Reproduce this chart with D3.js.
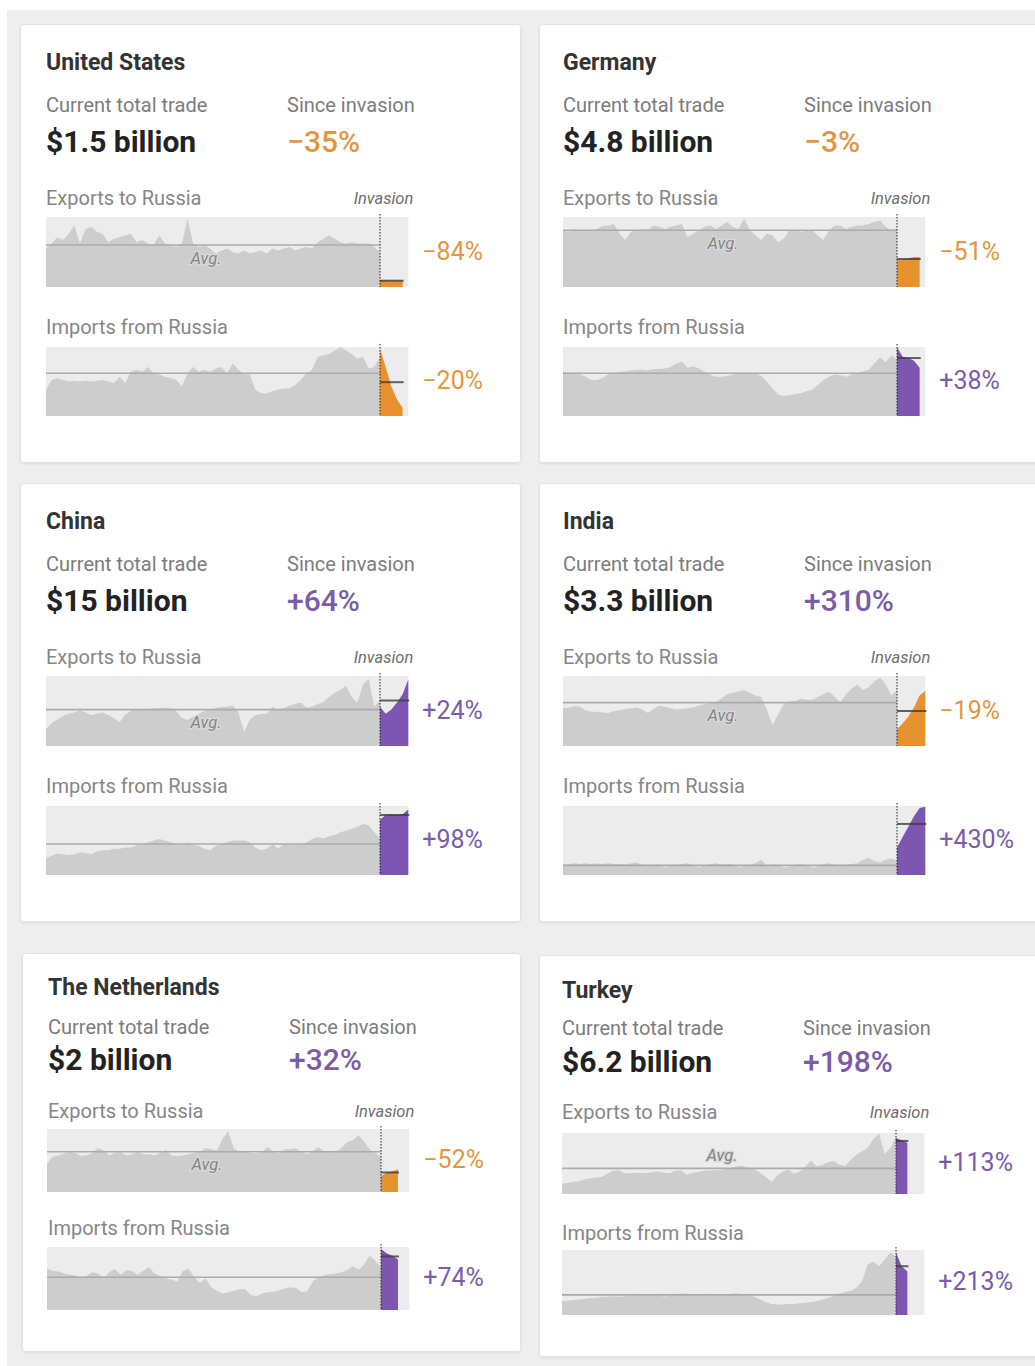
<!DOCTYPE html>
<html><head><meta charset="utf-8">
<script src="https://cdn.jsdelivr.net/npm/d3@7"></script>
<style>
body{margin:0;background:#fff;}
svg{display:block;font-family:Roboto, "Noto Sans", sans-serif;}
</style>
</head><body>
<svg id="chart" width="1035" height="1366"></svg>
<script>
// ---------- DATA ----------
const countries = ["United States", "Germany", "China", "India", "The Netherlands", "Turkey"];
const totalTrade = ["$1.5 billion", "$4.8 billion", "$15 billion", "$3.3 billion", "$2 billion", "$6.2 billion"];
const sinceInvasion = ["−35%", "−3%", "+64%", "+310%", "+32%", "+198%"];
const exportChange = ["−84%", "−51%", "+24%", "−19%", "−52%", "+113%"];
const importChange = ["−20%", "+38%", "+98%", "+430%", "+74%", "+213%"];

// series values, as share of each sparkline's height (0-100)
const usExports = [55,62,71,67,76,88,62,83,86,79,76,64,69,71,74,76,64,67,62,60,74,62,60,57,62,98,62,57,60,55,48,52,55,50,48,52,48,50,52,48,55,52,55,57,52,55,57,55,64,69,74,69,64,62,64,62,62,62,57,50];
const usExportsPost = [10,10,9,10,10];
const usImports = [38,52,55,52,50,51,50,51,50,51,52,50,48,57,48,64,67,64,71,62,60,57,55,52,43,62,71,64,67,64,69,71,62,76,67,60,60,38,33,33,36,38,40,40,45,52,62,67,86,88,90,95,100,95,90,83,86,69,71,86];
const usImportsPost = [98,71,43,24,12];

const deExports = [81,79,83,81,80,81,83,87,88,90,76,67,79,81,83,81,88,86,83,86,88,90,71,76,81,86,88,83,88,93,86,83,98,81,74,67,76,74,64,69,81,81,79,81,81,74,67,81,88,88,83,86,88,88,90,93,95,86,81,83];
const deExportsPost = [38,39,41,43,43];
const deImports = [64,62,63,60,57,52,52,55,60,62,64,65,66,67,67,66,68,68,69,71,76,79,70,72,69,64,60,57,57,58,60,62,62,62,62,58,50,40,31,29,30,32,33,36,38,45,52,57,60,59,57,60,62,65,67,76,85,78,88,82];
const deImportsPost = [100,86,84,80,70];

const cnExports = [24,33,38,43,46,48,51,48,44,46,48,44,40,34,45,50,52,52,53,54,54,55,54,50,40,37,42,46,50,52,54,56,56,58,48,20,38,44,46,46,56,52,54,58,60,62,55,56,60,63,70,76,80,86,70,62,88,96,56,66];
const cnExportsPost = [56,46,52,62,74,95];
const cnImports = [24,28,31,30,29,30,33,32,30,34,36,36,38,38,40,40,43,45,47,50,52,50,48,45,43,47,44,42,38,36,42,45,48,50,50,50,47,40,36,38,45,38,45,44,43,45,47,52,55,53,56,58,62,64,67,70,74,72,62,52];
const cnImportsPost = [80,87,88,87,88,95];

const inExports = [54,55,57,56,51,49,49,48,47,50,51,53,54,55,52,47,53,58,56,54,52,53,54,55,58,60,61,63,68,74,76,78,80,76,72,70,52,30,45,60,64,64,68,66,66,70,74,78,70,63,74,82,88,80,84,92,98,88,72,80];
const inExportsPost = [24,32,42,55,72,79];
const inImports = [15,16,17,16,17,16,17,16,17,16,16,15,17,18,15,14,15,16,11,14,15,16,17,15,11,14,16,17,15,16,16,11,13,15,17,22,13,16,15,11,12,15,16,15,11,12,16,17,15,14,15,16,17,22,25,20,18,22,24,21];
const inImportsPost = [40,55,70,85,97,99];

const nlExports = [45,56,58,61,63,62,57,58,62,70,66,58,62,63,58,60,64,60,60,58,62,67,58,57,58,60,62,64,70,68,66,84,97,69,64,65,62,61,64,72,64,62,68,68,69,64,60,66,71,64,63,64,70,79,82,90,80,68,62,56];
const nlExportsPost = [25,31,33,36];
const nlImports = [66,62,61,58,56,55,51,54,60,58,50,60,65,56,63,62,56,62,68,58,54,50,48,45,62,66,52,43,50,36,30,26,28,30,33,33,24,22,26,28,29,31,34,36,35,28,30,46,52,55,57,58,60,63,70,64,72,86,78,68];
const nlImportsPost = [97,90,86,80];

const trExports = [17,18,20,21,24,26,27,28,33,38,39,34,34,35,35,34,36,37,35,34,38,39,31,35,36,38,39,39,39,41,43,46,46,43,41,35,28,20,30,37,40,33,37,45,55,45,48,52,54,48,46,56,64,70,76,90,99,66,75,93];
const trExportsPost = [92,88,84];
const trImports = [21,22,23,24,25,26,26,28,28,29,28,29,30,30,31,31,30,31,28,30,32,33,33,31,32,31,30,30,32,31,33,33,31,30,28,24,20,17,16,16,17,17,18,19,20,21,24,26,30,33,35,37,42,52,78,82,75,85,96,90];
const trImportsPost = [96,75,67];

// average levels before / after the invasion (share of height)
const exportAvgPre  = [60, 81, 52, 62, 64, 42];
const exportAvgPost = [9, 40, 65, 50, 31, 87];
const importAvgPre  = [62, 62, 45, 14, 52, 31];
const importAvgPost = [49, 84, 87, 74, 85, 75];

// table built from the arrays
const exportsPre  = [usExports, deExports, cnExports, inExports, nlExports, trExports];
const exportsPost = [usExportsPost, deExportsPost, cnExportsPost, inExportsPost, nlExportsPost, trExportsPost];
const importsPre  = [usImports, deImports, cnImports, inImports, nlImports, trImports];
const importsPost = [usImportsPost, deImportsPost, cnImportsPost, inImportsPost, nlImportsPost, trImportsPost];

// ---------- LAYOUT ----------
const std = {title:38, ctt:81, val:117, exp:174, es:193, eh:70, imp:303, is:323, ih:69};
const cards = [
  Object.assign({x:20,  y:24,  w:501, h:439, cx:46,  tx:46,  avgAbove:false}, std),
  Object.assign({x:539, y:24,  w:510, h:439, cx:563, tx:563, avgAbove:false}, std),
  Object.assign({x:20,  y:483, w:501, h:439, cx:46,  tx:46,  avgAbove:false}, std),
  Object.assign({x:539, y:483, w:510, h:439, cx:563, tx:563, avgAbove:false}, std),
  {x:22,  y:953, w:499, h:399, cx:47,  tx:48,  avgAbove:false, title:34, ctt:74, val:106, exp:158, es:176, eh:63, imp:275, is:294, ih:63},
  {x:539, y:955, w:510, h:402, cx:562, tx:562, avgAbove:true,  title:35, ctt:73, val:106, exp:157, es:178, eh:61, imp:278, is:295, ih:65}
];

const ORANGE = "#e8922f", ORANGE_T = "#e2963f";
const PURPLE = "#7d56b2", PURPLE_T = "#7a5ca8";
const neg = s => s.trim().startsWith("−");

const svg = d3.select("#chart");
svg.append("rect").attr("width",1035).attr("height",1366).attr("fill","#fff");
svg.append("rect").attr("x",7).attr("y",10).attr("width",1028).attr("height",1356).attr("fill","#eeeeee");

const defs = svg.append("defs");
const f = defs.append("filter").attr("id","sh").attr("x","-5%").attr("y","-5%").attr("width","110%").attr("height","110%");
f.append("feDropShadow").attr("dx",0).attr("dy",1).attr("stdDeviation",1).attr("flood-color","#000").attr("flood-opacity",0.08);

const x = d3.scaleLinear().domain([0, 59]).range([0, 334]);

function spark(g, pre, post, avgPre, avgPost, h, color, showAvg, avgAbove) {
  const y = d3.scaleLinear().domain([0, 100]).range([h, 0]);
  const invX = x(pre.length - 1);
  const endIdx = pre.length - 1 + 5;
  g.append("rect").attr("x", x(0)).attr("y", 0).attr("width", x(endIdx) - x(0)).attr("height", h).attr("fill", "#ececec");
  const area = d3.area().x(d => x(d[0])).y0(h).y1(d => y(d[1]));
  g.append("path").datum(pre.map((v, i) => [i, v])).attr("d", area).attr("fill", "#cdcdcd");
  g.append("path").datum(post.map((v, j) => [pre.length - 1 + j, v])).attr("d", area).attr("fill", color);
  g.append("line").attr("x1", x(0)).attr("x2", invX).attr("y1", y(avgPre)).attr("y2", y(avgPre))
    .attr("stroke", "#ababab").attr("stroke-width", 1.6);
  g.append("line").attr("x1", invX).attr("x2", x(pre.length - 1 + post.length - 1) + 1).attr("y1", y(avgPost)).attr("y2", y(avgPost))
    .attr("stroke", "#3d3d3d").attr("stroke-opacity", 0.8).attr("stroke-width", 2);
  g.append("line").attr("x1", invX).attr("x2", invX).attr("y1", -3).attr("y2", h)
    .attr("stroke", "#222").attr("stroke-width", 1).attr("stroke-dasharray", "1.5,1.5");
  if (showAvg) {
    g.append("text").attr("x", 160).attr("y", y(avgPre) + (avgAbove ? -13 : 13))
      .attr("text-anchor", "middle").attr("dominant-baseline", "central")
      .attr("font-size", 16.5).attr("font-style", "italic").attr("fill", "#848484")
      .attr("stroke", "#dadada").attr("stroke-width", 2.5).attr("paint-order", "stroke")
      .text("Avg.");
  }
  return y;
}

cards.forEach((c, i) => {
  const g = svg.append("g").attr("transform", `translate(${c.x},${c.y})`);
  g.append("rect").attr("x", 0.5).attr("y", 0.5).attr("width", c.w - 1).attr("height", c.h - 1).attr("rx", 3)
    .attr("fill", "#fff").attr("stroke", "#e2e2e2").attr("filter", "url(#sh)");
  const lx = c.tx - c.x, sx = lx + 241;
  const t = (xx, yy, txt, size, fill, weight, style) => g.append("text").attr("x", xx).attr("y", yy)
    .attr("dominant-baseline", "central").attr("font-size", size).attr("fill", fill)
    .attr("font-weight", weight || 400).attr("font-style", style || "normal").text(txt);
  t(lx, c.title, countries[i], 23, "#333", 700);
  t(lx, c.ctt, "Current total trade", 20, "#7c7c7c");
  t(sx, c.ctt, "Since invasion", 20, "#7c7c7c");
  t(lx, c.val, totalTrade[i], 30, "#222", 700);
  t(sx, c.val, sinceInvasion[i], 30, neg(sinceInvasion[i]) ? ORANGE_T : PURPLE_T, 500);
  t(lx, c.exp, "Exports to Russia", 20, "#868686");
  t(lx, c.imp, "Imports from Russia", 20, "#868686");
  const sxl = c.cx - c.x;
  const boxR = sxl + x(64);
  t(boxR + 5, c.exp, "Invasion", 16.5, "#6e6e6e", 400, "italic").attr("text-anchor", "end");

  const ge = g.append("g").attr("transform", `translate(${sxl},${c.es})`);
  const ce = neg(exportChange[i]) ? ORANGE : PURPLE;
  spark(ge, exportsPre[i], exportsPost[i], exportAvgPre[i], exportAvgPost[i], c.eh, ce, true, c.avgAbove);
  t(boxR + 14, c.es + c.eh / 2 - 1, exportChange[i], 25, neg(exportChange[i]) ? ORANGE_T : PURPLE_T, 400);

  const gi = g.append("g").attr("transform", `translate(${sxl},${c.is})`);
  const ci = neg(importChange[i]) ? ORANGE : PURPLE;
  spark(gi, importsPre[i], importsPost[i], importAvgPre[i], importAvgPost[i], c.ih, ci, false, false);
  t(boxR + 14, c.is + c.ih / 2 - 1, importChange[i], 25, neg(importChange[i]) ? ORANGE_T : PURPLE_T, 400);
});
</script>
</body></html>
